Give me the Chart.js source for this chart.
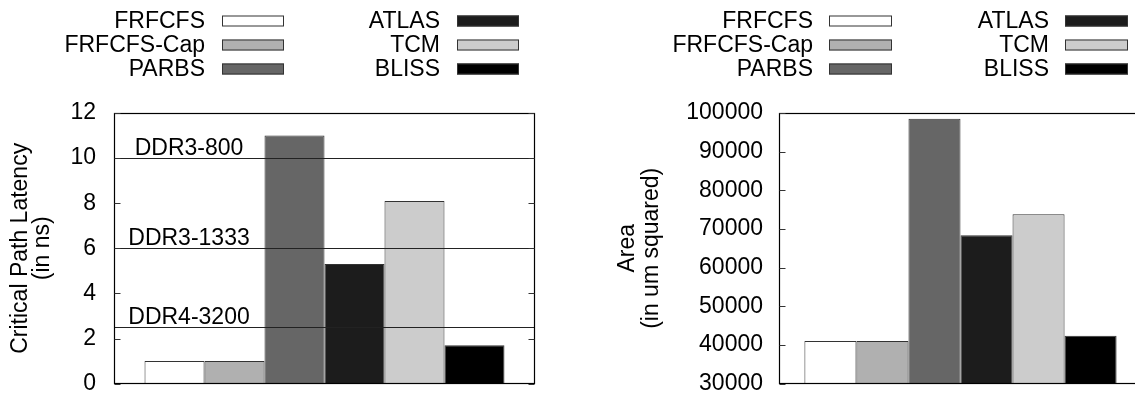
<!DOCTYPE html>
<html><head><meta charset="utf-8">
<script src="https://cdn.jsdelivr.net/npm/chart.js@4.4.0/dist/chart.umd.min.js"></script>
<style>
html,body{margin:0;padding:0;background:#fff;overflow:hidden;width:1135px;height:394px;position:relative;}
#c1{position:absolute;left:0;top:0;}
#c2{position:absolute;left:606px;top:0;}
</style></head><body>
<canvas id="c1" width="560" height="412"></canvas>
<canvas id="c2" width="540" height="410"></canvas>
<script>
// ---- data ----
const schedulers = ['FRFCFS', 'FRFCFS-Cap', 'PARBS', 'ATLAS', 'TCM', 'BLISS'];
const barColors = ['#ffffff', '#b0b0b0', '#666666', '#1c1c1c', '#cccccc', '#000000'];
const latencyNs = [1.0, 1.0, 11.0, 5.3, 8.1, 1.7];
const areaUm2 = [41000, 41000, 98500, 68400, 73800, 42400];
const ddrNames = ['DDR3-800', 'DDR3-1333', 'DDR4-3200'];
const ddrLatency = [10, 6, 2.5];
const latencyTicks = [0, 2, 4, 6, 8, 10, 12];
const areaTicks = [30000, 40000, 50000, 60000, 70000, 80000, 90000, 100000];
const latencyTitle = ['Critical Path Latency', '(in ns)'];
const areaTitle = ['Area', '(in um squared)'];

const FONT = '"Liberation Sans", Arial, Helvetica, sans-serif';
const FS = 23;

const framePlugin = {
  id: 'frame',
  afterDatasetsDraw(chart, args, opts) {
    const {ctx, chartArea: a, scales: {y}} = chart;
    ctx.save();
    if (opts.lines) {
      ctx.strokeStyle = '#222';
      ctx.lineWidth = 1.2;
      ctx.font = FS + 'px ' + FONT;
      ctx.fillStyle = '#000';
      ctx.textAlign = 'center';
      ctx.textBaseline = 'alphabetic';
      opts.lines.values.forEach((v, i) => {
        const py = Math.round(y.getPixelForValue(v)) + 0.5;
        ctx.beginPath(); ctx.moveTo(a.left, py); ctx.lineTo(a.right, py); ctx.stroke();
        ctx.fillText(opts.lines.names[i], a.left + 75, py - 4);
      });
    }
    // plot frame
    ctx.strokeStyle = '#000';
    ctx.lineWidth = 1.2;
    const L = Math.round(a.left) + 0.5, R = Math.round(a.right) - 0.5;
    const T = Math.round(a.top) + 0.5, B = Math.round(a.bottom) - 0.5;
    ctx.strokeRect(L, T, R - L, B - T);
    // inward tick marks on left and right
    ctx.lineWidth = 1;
    ctx.strokeStyle = '#333';
    y.ticks.forEach(t => {
      const py = Math.round(y.getPixelForValue(t.value)) + 0.5;
      ctx.beginPath();
      ctx.moveTo(L, py); ctx.lineTo(L + 6, py);
      ctx.moveTo(R, py); ctx.lineTo(R - 6, py);
      ctx.stroke();
    });
    ctx.restore();
  },
  afterDraw(chart, args, opts) {
    const lg = opts.legend;
    if (!lg) return;
    const ctx = chart.ctx;
    ctx.save();
    ctx.font = FS + 'px ' + FONT;
    ctx.textAlign = 'right';
    ctx.textBaseline = 'alphabetic';
    chart.data.datasets.forEach((ds, i) => {
      const col = Math.floor(i / 3), row = i % 3;
      const tx = lg.textRight[col];
      const base = lg.baselines[row];
      ctx.fillStyle = '#000';
      ctx.fillText(ds.label, tx, base);
      const sx = tx + lg.gap, sy = lg.swatchTop[row];
      ctx.fillStyle = ds.backgroundColor;
      ctx.fillRect(sx, sy, lg.swatchW, lg.swatchH);
      ctx.strokeStyle = '#333';
      ctx.lineWidth = 1;
      ctx.strokeRect(sx + 0.5, sy + 0.5, lg.swatchW - 1, lg.swatchH - 1);
    });
    ctx.restore();
  }
};

function makeChart(id, values, ticks, cfg) {
  return new Chart(document.getElementById(id), {
    type: 'bar',
    data: {
      labels: [''],
      datasets: schedulers.map((s, i) => ({
        label: s,
        data: [values[i]],
        backgroundColor: barColors[i],
        borderColor: '#333',
        borderWidth: 1
      }))
    },
    options: {
      responsive: false,
      animation: false,
      events: [],
      layout: {padding: {left: 0, top: 113, bottom: 0, right: cfg.padRight}},
      datasets: {bar: {barPercentage: 1, categoryPercentage: cfg.catPct}},
      plugins: {
        legend: {display: false},
        tooltip: {enabled: false},
        frame: {lines: cfg.lines, legend: cfg.legend}
      },
      scales: {
        x: {display: false},
        y: {
          min: ticks[0],
          max: ticks[ticks.length - 1],
          grid: {display: false, drawTicks: false},
          border: {display: false},
          ticks: {
            stepSize: ticks[1] - ticks[0],
            autoSkip: false,
            padding: cfg.tickPad,
            color: '#000',
            font: {family: FONT, size: FS, lineHeight: 0.9},
            callback: v => String(v)
          },
          title: {
            display: true,
            text: cfg.title,
            color: '#000',
            font: {family: FONT, size: FS, lineHeight: cfg.titleLH},
            padding: {top: cfg.titlePad, bottom: 0}
          },
          afterFit(s) { s.width = cfg.axisWidth; }
        }
      }
    },
    plugins: [framePlugin]
  });
}

makeChart('c1', latencyNs, latencyTicks, {
  padRight: 25, catPct: 0.855, tickPad: 18, axisWidth: 114,
  title: latencyTitle, titleLH: '22px', titlePad: 9.5,
  lines: {names: ddrNames, values: ddrLatency},
  legend: {textRight: [205, 440], gap: 17, swatchW: 62, swatchH: 11,
           baselines: [28, 52, 76], swatchTop: [15.5, 39.5, 63.5]}
});

makeChart('c2', areaUm2, areaTicks, {
  padRight: 4, catPct: 0.86, tickPad: 16, axisWidth: 173,
  title: areaTitle, titleLH: '24px', titlePad: 10,
  lines: null,
  legend: {textRight: [207, 443], gap: 16, swatchW: 63, swatchH: 11,
           baselines: [28, 52, 76], swatchTop: [15.5, 39.5, 63.5]}
});
</script>
</body></html>
